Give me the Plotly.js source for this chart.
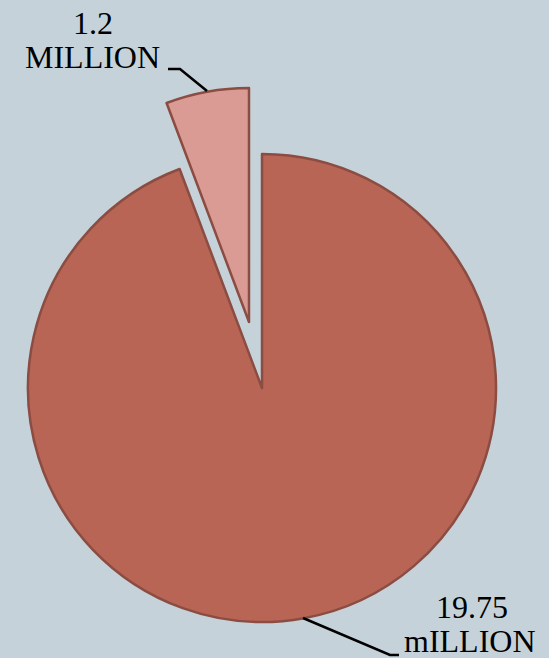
<!DOCTYPE html>
<html>
<head>
<meta charset="utf-8">
<script src="https://cdn.plot.ly/plotly-3.0.1.min.js"></script>
<style>html,body{margin:0;padding:0;background:#c6d2d9;}#chart{width:549px;height:658px;}</style>
</head>
<body>
<div id="chart"></div>
<script>
const categories = ["19.75 mILLION", "1.2 MILLION"];
const values = [19.75, 1.2];
const labelTop = ["19.75", "1.2"];
const labelBottom = ["mILLION", "MILLION"];

const mainColor = "#b86555";
const smallColor = "#d99b93";
const edge = "#8b4c42";

const base = {
  type: "pie",
  labels: categories,
  values: values,
  sort: false,
  direction: "clockwise",
  rotation: 0,
  textinfo: "none",
  hoverinfo: "label+value",
  showlegend: false
};

const mainTrace = Object.assign({}, base, {
  domain: {x: [0.0510, 0.9035], y: [0.0547, 0.7660]},
  marker: {colors: [mainColor, "rgba(0,0,0,0)"], line: {color: edge, width: [2.5, 0]}}
});
const smallTrace = Object.assign({}, base, {
  domain: {x: [0.0273, 0.8798], y: [0.155, 0.8663]},
  marker: {colors: ["rgba(0,0,0,0)", smallColor], line: {color: edge, width: [0, 2.5]}}
});

function px(x){return x/549;}
function py(y){return 1 - y/658;}

const font = {family: "Liberation Serif, Times New Roman, serif", size: 32, color: "#000"};

function ann(x, y, text){
  return {xref: "paper", yref: "paper", x: px(x), y: py(y), text: text, showarrow: false,
          xanchor: "center", yanchor: "middle", font: font};
}

const layout = {
  width: 549, height: 658,
  margin: {l: 0, r: 0, t: 0, b: 0},
  paper_bgcolor: "#c6d2d9",
  plot_bgcolor: "#c6d2d9",
  annotations: [
    ann(93, 23, labelTop[1]),
    ann(92, 57, labelBottom[1]),
    ann(472, 607, labelTop[0]),
    ann(470, 641, labelBottom[0])
  ],
  shapes: [
    {type: "path", xref: "paper", yref: "paper",
     path: "M " + px(168) + "," + py(69) + " L " + px(180) + "," + py(69) + " L " + px(207) + "," + py(91),
     line: {color: "#000", width: 2.5}},
    {type: "path", xref: "paper", yref: "paper",
     path: "M " + px(303) + "," + py(618) + " L " + px(390) + "," + py(655) + " L " + px(399) + "," + py(655),
     line: {color: "#000", width: 2.5}}
  ]
};

Plotly.newPlot("chart", [mainTrace, smallTrace], layout, {displayModeBar: false, staticPlot: true});
</script>
</body>
</html>
